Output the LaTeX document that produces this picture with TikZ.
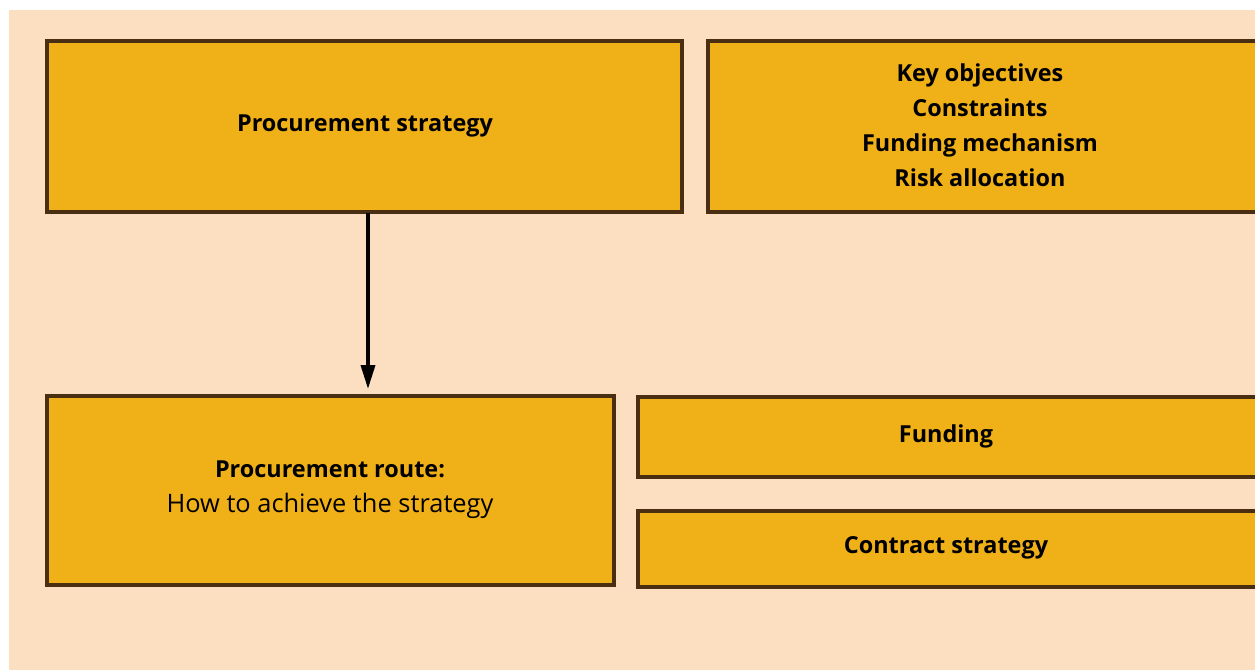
\documentclass[tikz,border=0pt]{standalone}
\usepackage{fontspec}
\setmainfont{Open Sans}
\usetikzlibrary{arrows.meta}
\definecolor{peach}{HTML}{FBDFC0}
\definecolor{amber}{HTML}{F0B018}
\definecolor{edge}{HTML}{4A2E12}
\begin{document}
\begin{tikzpicture}[x=1bp,y=-1bp,
  panel/.style={draw=edge,line width=3.2bp,fill=amber},
  lbl/.style={font=\fontsize{23.5}{35}\selectfont\bfseries,align=center,text=black}]
\useasboundingbox (0,0) rectangle (1255,670);
\fill[white] (0,0) rectangle (1255,670);
\fill[peach] (9,10) rectangle (1255,670);
% upper row
\draw[panel] (47,41) rectangle (682,212);
\draw[panel] (708,41) rectangle (1262,212);
\node[lbl] (strategy) at (365,126) {Procurement strategy};
\node[lbl] (aims) at (980,125) {Key objectives\\Constraints\\Funding mechanism\\Risk allocation};
% lower row
\draw[panel] (47,396) rectangle (614,585);
\draw[panel] (638,397) rectangle (1262,477);
\draw[panel] (638,511) rectangle (1262,587);
\node[lbl] (route) at (330,490) {Procurement route:\\\mdseries\fontsize{25.5}{35}\selectfont How to achieve the strategy};
\node[lbl] (funding) at (946,436) {Funding};
\node[lbl] (contract) at (946,548) {Contract strategy};
% link from strategy to route
\coordinate (a0) at (368,213);
\coordinate (a1) at (368,389);
\draw[line width=3.6bp,-{Triangle[length=24bp,width=14bp]}] (a0) -- (a1);
\end{tikzpicture}
\end{document}
